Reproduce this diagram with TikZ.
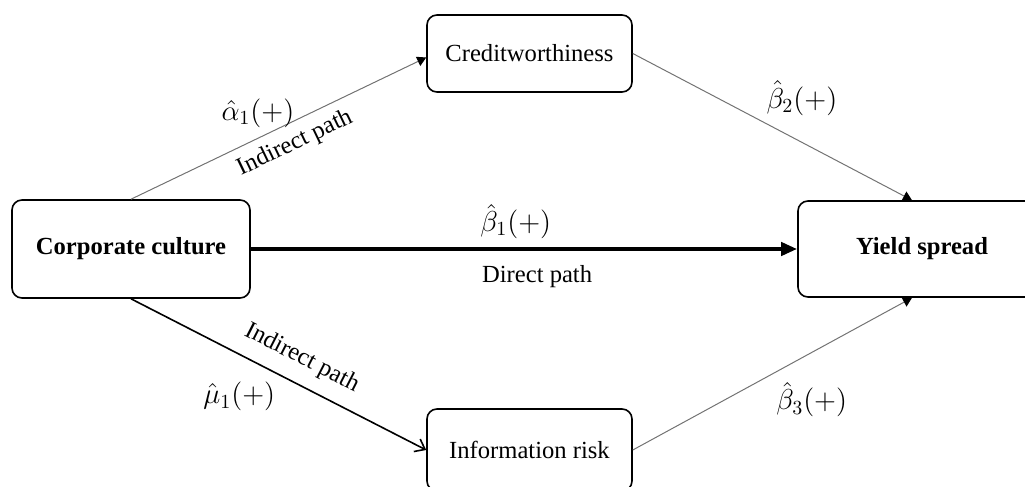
\documentclass[tikz,border=0pt]{standalone}
\usepackage{fontspec}
\setmainfont{Liberation Serif}
\usetikzlibrary{positioning,arrows.meta}

\begin{document}
\begin{tikzpicture}[
    x=0.5pt, y=-0.5pt,
    every node/.style={font=\fontsize{12.3}{15}\selectfont},
    box/.style={rectangle,draw,line width=0.8pt,rounded corners=5pt,
                minimum width=102.5pt,minimum height=38.5pt,inner sep=2pt},
    keybox/.style={box,font=\fontsize{12.3}{15}\selectfont\bfseries,
                minimum width=119pt,minimum height=49pt},
    lbl/.style={inner sep=1pt},
    mlbl/.style={inner sep=1pt,font=\fontsize{13.8}{16}\selectfont},
    thinarrow/.style={-{Triangle[length=4.5pt,width=5pt,color=black]},
                line width=0.5pt,draw=black!55},
    openarrow/.style={-{Straight Barb[length=4.5pt,width=7pt]},line width=0.8pt},
    mainarrow/.style={-{Triangle[length=8pt,width=6.5pt]},line width=2.2pt},
]
    \useasboundingbox (0,0) rectangle (1025,487);

    \node[keybox] (corp) at (131,249) {Corporate culture};
    \node[keybox,minimum width=124pt,minimum height=48pt] (ysp) at (922,249) {Yield spread};
    \node[box] (cred) at (529.5,53.5) {Creditworthiness};
    \node[box,minimum height=41pt] (info) at (529.5,450) {Information risk};

    \draw[thinarrow] (corp.north) -- ([yshift=-2pt]cred.west)
        node[mlbl,pos=0.43,above=4pt] {$\hat{\alpha}_1(+)$}
        node[lbl,sloped,pos=0.525,below=3.5pt] {Indirect path};
    \draw[thinarrow] (cred.east) -- ([xshift=-5pt]ysp.north)
        node[mlbl,pos=0.46,above right=2pt] {$\hat{\beta}_2(+)$};
    \draw[openarrow] (corp.south) -- (info.west)
        node[lbl,sloped,pos=0.54,above=5.5pt] {Indirect path}
        node[mlbl,pos=0.51,below left=2.5pt] {$\hat{\mu}_1(+)$};
    \draw[thinarrow] (info.east) -- ([xshift=-5pt]ysp.south)
        node[mlbl,pos=0.49,below right=3pt] {$\hat{\beta}_3(+)$};
    \draw[mainarrow] (corp.east) -- (ysp.west)
        node[mlbl,pos=0.485,above=3pt] {$\hat{\beta}_1(+)$}
        node[lbl,pos=0.524,below=6pt] {Direct path};
\end{tikzpicture}
\end{document}
